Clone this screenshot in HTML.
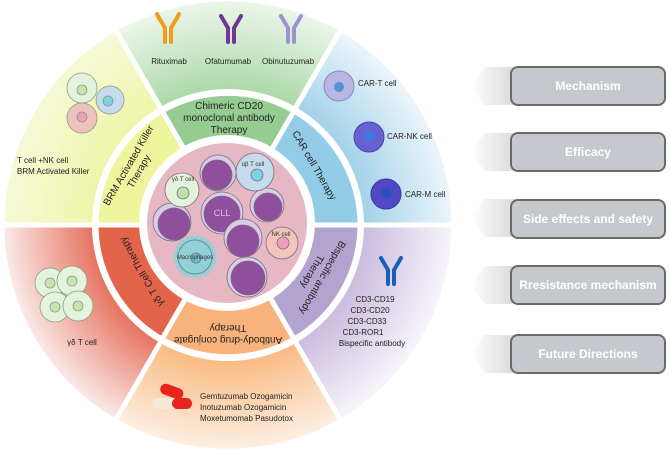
<!DOCTYPE html>
<html><head><meta charset="utf-8"><style>
html,body{margin:0;padding:0;background:#fff;width:669px;height:451px;overflow:hidden}
svg{display:block;font-family:"Liberation Sans",sans-serif}
</style></head><body>
<svg width="669" height="451" viewBox="0 0 669 451" xmlns="http://www.w3.org/2000/svg">
<defs>
<radialGradient id="gT" gradientUnits="userSpaceOnUse" cx="228" cy="225" r="226"><stop offset="0.58" stop-color="#a9d7a6"/><stop offset="1" stop-color="#eef7ec"/></radialGradient>
<radialGradient id="gUR" gradientUnits="userSpaceOnUse" cx="228" cy="225" r="226"><stop offset="0.58" stop-color="#9fd0e8"/><stop offset="1" stop-color="#eef6fb"/></radialGradient>
<radialGradient id="gLR" gradientUnits="userSpaceOnUse" cx="228" cy="225" r="226"><stop offset="0.58" stop-color="#c8b9dc"/><stop offset="1" stop-color="#f8f6fb"/></radialGradient>
<radialGradient id="gB" gradientUnits="userSpaceOnUse" cx="228" cy="225" r="226"><stop offset="0.58" stop-color="#f9b87e"/><stop offset="1" stop-color="#fdf0e4"/></radialGradient>
<radialGradient id="gLL" gradientUnits="userSpaceOnUse" cx="228" cy="225" r="226"><stop offset="0.58" stop-color="#e56e5a"/><stop offset="1" stop-color="#fbecea"/></radialGradient>
<radialGradient id="gUL" gradientUnits="userSpaceOnUse" cx="228" cy="225" r="226"><stop offset="0.58" stop-color="#eef5a8"/><stop offset="1" stop-color="#f6f9d8"/></radialGradient>
<linearGradient id="arr" x1="0" x2="1" y1="0" y2="0"><stop offset="0" stop-color="#fff"/><stop offset="1" stop-color="#d8dadc"/></linearGradient>
</defs>

<!-- outer sectors -->
<g stroke="#fff" stroke-width="5">
<path d="M228,225 L115,29 A226,226 0 0 1 341,29 Z" fill="url(#gT)"/>
<path d="M228,225 L341,29 A226,226 0 0 1 454,225 Z" fill="url(#gUR)"/>
<path d="M228,225 L454,225 A226,226 0 0 1 341,421 Z" fill="url(#gLR)"/>
<path d="M228,225 L341,421 A226,226 0 0 1 115,421 Z" fill="url(#gB)"/>
<path d="M228,225 L115,421 A226,226 0 0 1 2,225 Z" fill="url(#gLL)"/>
<path d="M228,225 L2,225 A226,226 0 0 1 115,29 Z" fill="url(#gUL)"/>
</g>
<circle cx="228" cy="225" r="136" fill="#fff"/>
<!-- middle ring -->
<g stroke="#fff" stroke-width="5">
<path d="M228,225 L162,111 A132,132 0 0 1 294,111 Z" fill="#95cc92"/>
<path d="M228,225 L294,111 A132,132 0 0 1 360,225 Z" fill="#92cce6"/>
<path d="M228,225 L360,225 A132,132 0 0 1 294,339 Z" fill="#b3a3cf"/>
<path d="M228,225 L294,339 A132,132 0 0 1 162,339 Z" fill="#f9b27b"/>
<path d="M228,225 L162,339 A132,132 0 0 1 96,225 Z" fill="#e2654b"/>
<path d="M228,225 L96,225 A132,132 0 0 1 162,111 Z" fill="#eef59c"/>
</g>
<circle cx="227" cy="223" r="88" fill="#fff"/>
<circle cx="227" cy="223" r="80" fill="#e6b8c4"/>

<!-- middle ring labels -->
<g font-size="10" fill="#222" text-anchor="middle">
<text x="229" y="109">Chimeric CD20</text>
<text x="229" y="121">monoclonal antibody</text>
<text x="229" y="133">Therapy</text>
<text transform="translate(315,165) rotate(60)" x="0" y="4">CAR cell Therapy</text>
<text transform="translate(133,168) rotate(-60)" x="0" y="-2">BRM Activated Killer</text>
<text transform="translate(133,168) rotate(-60)" x="0" y="10">Therapy</text>
<text transform="translate(141,272) rotate(-120)" x="0" y="4">γδ T Cell Therapy</text>
<text transform="translate(318,275) rotate(120)" x="0" y="-2">Bispecific antibody</text>
<text transform="translate(318,275) rotate(120)" x="0" y="10">Therapy</text>
<text transform="translate(228,333) rotate(180)" x="0" y="-4">Antibody-drug conjugate</text>
<text transform="translate(228,333) rotate(180)" x="0" y="8">Therapy</text>
</g>

<!-- inner cells -->
<g stroke="#7a6a88" stroke-width="0.8">
<circle cx="218" cy="173" r="18" fill="#d9cde3"/><circle cx="217" cy="175" r="15" fill="#8f4f9c"/>
<circle cx="172" cy="222" r="19" fill="#d9cde3"/><circle cx="174" cy="224" r="16" fill="#8f4f9c"/>
<circle cx="222" cy="213" r="21" fill="#d9cde3"/><circle cx="222" cy="214" r="18" fill="#8f4f9c"/>
<circle cx="267" cy="205" r="17" fill="#d9cde3"/><circle cx="268" cy="207" r="14" fill="#8f4f9c"/>
<circle cx="243" cy="238" r="19" fill="#d9cde3"/><circle cx="243" cy="241" r="16" fill="#8f4f9c"/>
<circle cx="247" cy="277" r="20" fill="#d9cde3"/><circle cx="248" cy="278" r="17" fill="#8f4f9c"/>
<circle cx="182" cy="190" r="17" fill="#e4f3dc"/><circle cx="183" cy="193" r="6" fill="#bde3a8"/>
<circle cx="255" cy="172" r="19" fill="#c5dcec"/><circle cx="257" cy="175" r="6" fill="#7fd3e0"/>
<circle cx="282" cy="243" r="16" fill="#f2c4bc"/><circle cx="283" cy="243" r="6" fill="#ef9fb6"/>
<circle cx="195" cy="257" r="20" fill="#8fd1d6" stroke-dasharray="3 2" stroke-width="3" stroke="#8fd1d6"/>
<circle cx="195" cy="257" r="17" fill="#8fd1d6"/><circle cx="196" cy="258" r="5" fill="#6cc0c6"/>
</g>
<g font-size="6" fill="#333" text-anchor="middle">
<text x="183" y="181">γδ T cell</text><text x="253" y="166">αβ T cell</text>
<text x="281" y="236">NK cell</text><text x="195" y="259">Macrophages</text>
</g>
<text x="222" y="216" font-size="9" fill="#d8c4e0" text-anchor="middle">CLL</text>

<!-- antibodies top -->
<g fill="none" stroke-width="4" stroke-linecap="round">
<path d="M165,42 V28 L158,16 M171,42 V28 L178,16 M160,20 L157,14 M176,20 L179,14" stroke="#f09c1c"/>
<path d="M228,42 V28 L221,16 M234,42 V28 L241,16" stroke="#6d3797"/>
<path d="M288,42 V28 L281,16 M294,42 V28 L301,16" stroke="#9d93d2"/>
<path d="M388,284 V270 L381,258 M394,284 V270 L401,258" stroke="#1c5db7"/>
</g>
<g font-size="8" fill="#222" text-anchor="middle">
<text x="169" y="64">Rituximab</text><text x="228" y="64">Ofatumumab</text><text x="288" y="64">Obinutuzumab</text>
</g>

<!-- CAR cells -->
<circle cx="339" cy="86" r="15" fill="#b8b6e2" stroke="#8a88c0"/><circle cx="339" cy="87" r="5" fill="#5a8fd8"/>
<circle cx="369" cy="137" r="15" fill="#6660d0" stroke="#4a44b0"/><circle cx="369" cy="136" r="5" fill="#3b7ad8"/>
<circle cx="386" cy="194" r="15" fill="#5048c4" stroke="#3a34a0"/><circle cx="386" cy="193" r="5" fill="#2a50c8"/>
<g font-size="8" fill="#222">
<text x="358" y="86">CAR-T cell</text><text x="387" y="139">CAR-NK cell</text><text x="405" y="197">CAR-M cell</text>
</g>

<!-- BRM cells -->
<g stroke="#8a9a88" stroke-width="0.8">
<circle cx="82" cy="88" r="15" fill="#e4f3dc"/><circle cx="82" cy="90" r="5" fill="#c4e6ae"/>
<circle cx="110" cy="100" r="14" fill="#c4dced"/><circle cx="108" cy="101" r="5" fill="#7fd3e0"/>
<circle cx="82" cy="118" r="15" fill="#f0c2bc"/><circle cx="82" cy="117" r="5" fill="#ef9fb6"/>
</g>
<g font-size="8" fill="#222"><text x="17" y="163">T cell +NK cell</text><text x="17" y="174">BRM Activated Killer</text></g>

<!-- γδ cells -->
<g stroke="#8a9a88" stroke-width="0.8">
<circle cx="50" cy="283" r="15" fill="#e4f3dc"/><circle cx="50" cy="283" r="5" fill="#c4e6ae"/>
<circle cx="72" cy="281" r="15" fill="#e4f3dc"/><circle cx="72" cy="281" r="5" fill="#c4e6ae"/>
<circle cx="55" cy="307" r="15" fill="#e4f3dc"/><circle cx="55" cy="307" r="5" fill="#c4e6ae"/>
<circle cx="78" cy="306" r="15" fill="#e4f3dc"/><circle cx="78" cy="306" r="5" fill="#c4e6ae"/>
</g>
<text x="82" y="345" font-size="8" fill="#222" text-anchor="middle">γδ T cell</text>

<!-- bispecific labels -->
<g font-size="8" fill="#222" text-anchor="middle">
<text x="375" y="302">CD3-CD19</text><text x="370" y="313">CD3-CD20</text><text x="367" y="324">CD3-CD33</text><text x="363" y="335">CD3-ROR1</text><text x="372" y="346">Bispecific antibody</text>
</g>

<!-- pills -->
<rect x="152" y="398" width="28" height="11" rx="5.5" fill="#f5e9d8"/>
<rect x="160" y="386" width="24" height="11" rx="5.5" fill="#e8241c" transform="rotate(20 172 391)"/>
<rect x="172" y="398" width="20" height="11" rx="5.5" fill="#e8241c"/>
<g font-size="8" fill="#222"><text x="200" y="399">Gemtuzumab Ozogamicin</text><text x="200" y="410">Inotuzumab Ozogamicin</text><text x="200" y="421">Moxetumomab Pasudotox</text></g>

<!-- right panel -->
<g>
<polygon points="470,86 485,67 515,67 515,105 485,105" fill="url(#arr)"/>
<polygon points="470,152 485,133 515,133 515,171 485,171" fill="url(#arr)"/>
<polygon points="470,218 485,199 515,199 515,237 485,237" fill="url(#arr)"/>
<polygon points="470,285 485,266 515,266 515,304 485,304" fill="url(#arr)"/>
<polygon points="470,354 485,335 515,335 515,373 485,373" fill="url(#arr)"/>
</g>
<g fill="#c5c9cd" stroke="#6a6a6a" stroke-width="2">
<rect x="511" y="67" width="154" height="38" rx="7"/>
<rect x="511" y="133" width="154" height="38" rx="7"/>
<rect x="511" y="200" width="154" height="38" rx="7"/>
<rect x="511" y="266" width="154" height="38" rx="7"/>
<rect x="511" y="335" width="154" height="38" rx="7"/>
</g>
<g font-size="12" font-weight="bold" fill="#fff" text-anchor="middle">
<text x="588" y="90">Mechanism</text>
<text x="588" y="156">Efficacy</text>
<text x="588" y="223">Side effects and safety</text>
<text x="588" y="289">Rresistance mechanism</text>
<text x="588" y="358">Future Directions</text>
</g>
</svg>
</body></html>
